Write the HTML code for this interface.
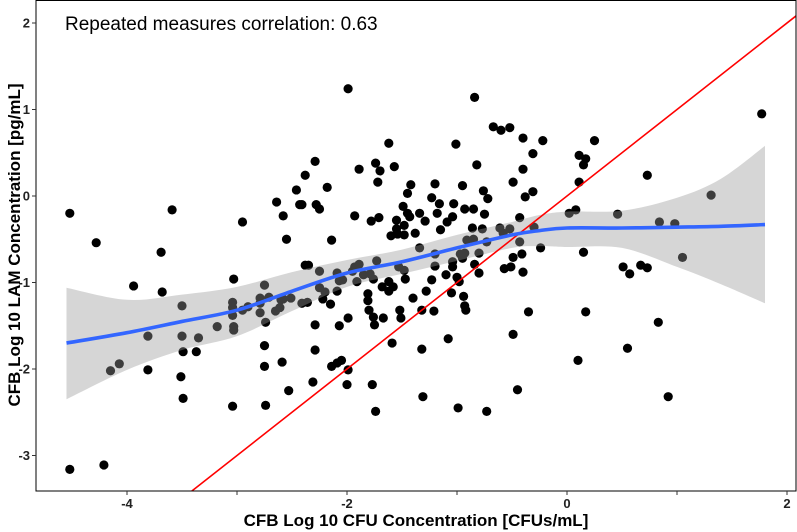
<!DOCTYPE html>
<html><head><meta charset="utf-8"><style>
html,body{margin:0;padding:0;background:#fff;overflow:hidden;width:797px;height:532px;}
svg{display:block;font-family:"Liberation Sans",Arial,sans-serif;}
</style></head><body>
<svg id="chart" width="797" height="532" viewBox="0 0 797 532">
<g id="marks"></g>
</svg>
<script>
const xs = [-4.52,-4.28,-3.59,-3.69,-2.95,-3.94,-3.68,-3.03,-2.65,-2.74,-3.50,-3.81,-4.07,-4.15,-3.49,-3.35,-3.18,-3.03,-2.95,-2.90,-3.04,-2.79,-3.04,-2.79,-2.58,-3.49,-3.04,-2.74,-3.37,-2.53,-2.75,-2.59,-4.52,-4.21,-2.46,-2.64,-2.58,-2.55,-2.43,-1.99,-2.29,-2.38,-2.18,-2.41,-2.28,-2.25,-2.14,-1.62,-1.01,-1.57,-1.89,-1.74,-1.70,-1.72,-1.20,-1.42,-1.45,-1.49,-1.23,-1.16,-1.03,-1.18,-1.45,-1.34,-1.43,-1.29,-1.55,-1.71,-1.78,-1.93,-1.48,-1.55,-1.60,-1.54,-1.48,-1.38,-1.15,-1.09,-1.04,-2.29,-2.07,-1.99,-1.81,-1.81,-1.80,-1.76,-1.75,-1.67,-1.59,-1.52,-1.51,-1.40,-1.32,-1.28,-1.21,-1.23,-1.32,-1.08,-1.31,-0.99,-1.74,-1.77,-2.00,-1.99,-2.05,-2.09,-2.14,-2.29,-2.31,-2.22,-2.15,-2.41,-2.36,-2.51,-1.05,-1.10,-1.04,-1.00,-1.34,-1.20,-1.20,-1.48,-1.53,-1.73,-1.89,-1.93,-1.95,-1.79,-1.76,-1.91,-1.85,-2.09,-2.07,-2.04,-2.09,-2.25,-2.25,-2.20,-2.60,-2.38,-2.35,-1.47,-1.62,-1.68,-1.62,-1.58,-0.84,-0.67,-0.60,-0.52,-0.40,-0.22,0.25,-0.82,-0.31,-0.40,0.11,0.17,0.15,0.11,-0.49,-0.95,-0.76,-0.38,-0.31,-0.72,-0.93,-0.85,-0.75,0.73,1.77,1.31,0.46,0.84,0.98,1.05,0.02,0.08,-0.43,-0.30,-0.43,-0.61,-0.52,-0.58,-0.77,-0.86,-0.73,-0.91,-0.85,-0.80,-0.93,-0.97,-0.95,-1.04,-0.24,-0.41,-0.49,0.15,-0.51,-0.57,-0.40,-0.84,-0.80,-0.98,-0.94,-0.93,-0.92,-0.35,0.17,0.51,0.57,0.67,0.73,0.83,0.55,0.10,-0.49,-0.45,0.92,-0.73,-3.50,-3.81,-2.75,-2.71,-2.61,-3.04,-2.79,-3.51,-2.75,-3.03];
const ys = [-0.20,-0.54,-0.16,-0.65,-0.30,-1.04,-1.11,-0.96,-1.33,-1.46,-1.62,-2.01,-1.94,-2.02,-1.80,-1.64,-1.51,-1.51,-1.32,-1.28,-1.23,-1.24,-1.38,-1.18,-1.19,-2.34,-2.43,-2.42,-1.80,-2.25,-1.97,-1.92,-3.16,-3.11,0.07,-0.07,-0.23,-0.50,-0.10,1.24,0.40,0.24,0.10,-0.10,-0.10,-0.15,-0.51,0.61,0.60,0.34,0.31,0.38,0.29,0.16,0.14,0.13,0.03,-0.12,-0.02,-0.09,-0.09,-0.20,-0.20,-0.20,-0.24,-0.29,-0.28,-0.25,-0.29,-0.23,-0.34,-0.38,-0.46,-0.44,-0.45,-0.43,-0.39,-0.30,-0.24,-1.49,-1.50,-1.41,-1.13,-1.21,-1.32,-1.40,-1.49,-1.41,-1.70,-1.32,-1.41,-1.18,-1.32,-1.10,-1.33,-0.97,-1.77,-1.65,-2.32,-2.45,-2.49,-2.18,-2.18,-2.01,-1.90,-1.93,-1.97,-1.78,-2.15,-1.19,-1.25,-1.24,-1.23,-1.18,-1.12,-0.91,-0.82,-0.94,-0.60,-0.67,-0.81,-0.86,-0.82,-0.75,-0.79,-0.82,-0.87,-0.90,-0.96,-0.99,-0.91,-0.89,-0.98,-0.97,-1.10,-0.87,-1.06,-1.11,-1.20,-0.80,-0.80,-0.96,-0.99,-1.05,-1.10,-1.05,1.14,0.80,0.76,0.79,0.67,0.64,0.64,0.36,0.49,0.31,0.47,0.43,0.36,0.16,0.16,0.12,0.06,-0.01,0.05,-0.03,-0.15,-0.15,-0.21,0.24,0.95,0.01,-0.21,-0.30,-0.32,-0.71,-0.20,-0.16,-0.25,-0.36,-0.53,-0.37,-0.38,-0.43,-0.38,-0.37,-0.53,-0.51,-0.50,-0.66,-0.66,-0.67,-0.72,-0.76,-0.60,-0.67,-0.71,-0.65,-0.82,-0.84,-0.88,-0.79,-0.89,-0.99,-1.16,-1.27,-1.32,-1.34,-1.34,-0.82,-0.90,-0.80,-0.83,-1.46,-1.76,-1.90,-1.60,-2.24,-2.32,-2.49,-1.27,-1.62,-1.03,-1.17,-1.29,-1.29,-1.35,-2.09,-1.73,-1.55];
const smoothX = [-4.55,-4,-3.5,-3,-2.5,-2,-1.5,-1,-0.5,-0.25,0,0.5,1,1.4,1.8];
const smoothY = [-1.70,-1.58,-1.45,-1.32,-1.10,-0.89,-0.76,-0.60,-0.45,-0.40,-0.37,-0.37,-0.36,-0.35,-0.33];
const ciHi = [-1.06,-1.20,-1.14,-1.05,-0.88,-0.74,-0.62,-0.45,-0.30,-0.22,-0.18,-0.17,-0.02,0.20,0.58];
const ciLo = [-2.35,-2.01,-1.78,-1.62,-1.33,-1.05,-0.90,-0.75,-0.60,-0.58,-0.59,-0.60,-0.82,-1.02,-1.24];
const xTicks = [-4,-3,-2,-1,0,1,2];
const xTickLabels = ["-4","","-2","","0","","2"];
const yTicks = [2,1,0,-1,-2,-3];
const yTickLabels = ["2","1","0","-1","-2","-3"];
const corrLabel = "Repeated measures correlation: 0.63";

const L=36,R=796,T=0,B=491;
function sx(v){return 567+110*v;}
function sy(v){return 196-86.5*v;}
function ix(p){return (p-567)/110;}
function iy(p){return (196-p)/86.5;}
const NS="http://www.w3.org/2000/svg";
const svg=document.getElementById('chart');
const g=document.getElementById('marks');
function mk(tag,attrs,parent){const e=document.createElementNS(NS,tag);for(const k in attrs)e.setAttribute(k,attrs[k]);(parent||g).appendChild(e);return e;}

const clip=mk('clipPath',{id:'pclip'},svg);
mk('rect',{x:L,y:T,width:R-L,height:B-T},clip);
const plot=mk('g',{'clip-path':'url(#pclip)'});



for(let i=0;i<xs.length;i++){
  const c=mk('circle',{cx:sx(xs[i]),cy:sy(ys[i]),r:4.6,fill:'#000'},plot);
  
  
}
function smoothPath(px,py){
  let d='M'+px[0]+','+py[0];
  for(let i=0;i<px.length-1;i++){
    const p0=i>0?i-1:i, p3=i+2<px.length?i+2:i+1;
    const c1x=px[i]+(px[i+1]-px[p0])/6, c1y=py[i]+(py[i+1]-py[p0])/6;
    const c2x=px[i+1]-(px[p3]-px[i])/6, c2y=py[i+1]-(py[p3]-py[i])/6;
    d+=' C'+c1x+','+c1y+' '+c2x+','+c2y+' '+px[i+1]+','+py[i+1];
  }
  return d;
}
const PX=smoothX.map(sx);
const hiP=smoothPath(PX,ciHi.map(sy));
const loR=smoothPath(PX.slice().reverse(),ciLo.map(sy).reverse());
const band=mk('path',{d:hiP+' L'+loR.slice(1)+' Z',fill:'rgb(153,153,153)','fill-opacity':0.4},plot);


const lo=Math.max(ix(L),iy(B)), hi=Math.min(ix(R),iy(T));
const idl=mk('line',{x1:sx(lo),y1:sy(lo),x2:sx(hi),y2:sy(hi),stroke:'#ff0000','stroke-width':1.6},plot);


const sm=mk('path',{d:smoothPath(PX,smoothY.map(sy)),fill:'none',stroke:'#3366FF','stroke-width':3.6},plot);



const border=mk('rect',{x:L,y:T+0.5,width:R-L,height:B-T-0.5,fill:'none',stroke:'#000','stroke-width':1});



for(let i=0;i<xTicks.length;i++){
  const x=sx(xTicks[i]); if(x<L||x>R) continue;
  const t=mk('line',{x1:x,y1:B,x2:x,y2:B+4,stroke:'#333','stroke-width':1});
  
  
  if(xTickLabels[i]){
    const tx=mk('text',{x:x,y:B+17,'text-anchor':'middle','font-size':13,'font-weight':'bold',fill:'#222'});
    tx.textContent=xTickLabels[i];
    
    
  }
}
for(let i=0;i<yTicks.length;i++){
  const y=sy(yTicks[i]);
  const t=mk('line',{x1:L-4,y1:y,x2:L,y2:y,stroke:'#333','stroke-width':1});
  
  
  const tx=mk('text',{x:L-6,y:y+4.5,'text-anchor':'end','font-size':13,'font-weight':'bold',fill:'#222'});
  tx.textContent=yTickLabels[i];
  
  
}
const ann=mk('text',{x:65,y:30,'font-size':19,fill:'#000'});
ann.textContent=corrLabel;



const xt=mk('text',{x:416,y:526,'text-anchor':'middle','font-size':17,'font-weight':'bold'},svg);
xt.textContent="CFB Log 10 CFU Concentration [CFUs/mL]";


const yt=mk('text',{transform:'translate(20,245) rotate(-90)','text-anchor':'middle','font-size':17,'font-weight':'bold'},svg);
yt.textContent="CFB Log 10 LAM Concentration [pg/mL]";


</script>
</body></html>
